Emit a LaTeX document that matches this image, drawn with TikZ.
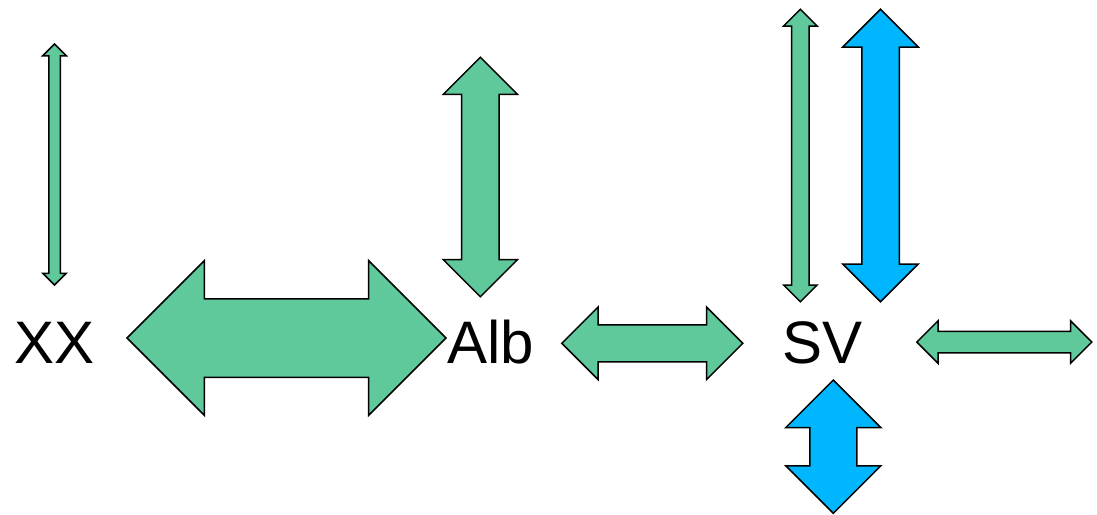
\documentclass[tikz,border=0pt]{standalone}
\usepackage{fontspec}
\setmainfont{Liberation Sans}
\usetikzlibrary{shapes.arrows}

\definecolor{seagreen}{RGB}{95,201,156}
\definecolor{skyblue}{RGB}{0,183,255}

\begin{document}
\begin{tikzpicture}[x=1pt, y=-1pt]
    \tikzset{site/.style={anchor=base, inner sep=0pt, font=\fontsize{60}{72}\selectfont},
             link/.style n args={3}{draw, shape=double arrow, line width=1.5pt, inner xsep=0pt,
                 minimum width=0pt, minimum height=#1, inner ysep=#2, double arrow head extend=#3},
             sea/.style={fill=seagreen},
             sky/.style={fill=skyblue}}
    \useasboundingbox (0, 0) rectangle (1097, 514);

    \node[site] (XX) at (54.5, 363.5) {XX};
    \node[site] (Alb) at (491, 363.5) {Alb};
    \node[site] (SV) at (822.5, 363.5) {SV};

    \node[link={241pt}{5pt}{6pt}, sea, rotate=90] (XXup) at (54.5, 164.5) {};
    \node[link={319pt}{38.5pt}{38.2pt}, sea] (XXAlb) at (286.5, 338) {};
    \node[link={239.5pt}{18pt}{18.3pt}, sea, rotate=90] (Albup) at (480.4, 177) {};
    \node[link={181pt}{17.7pt}{17.8pt}, sea] (AlbSV) at (652.3, 343.3) {};
    \node[link={292.5pt}{8pt}{8pt}, sea, rotate=90] (SVup) at (800.4, 155.5) {};
    \node[link={292.5pt}{18pt}{19pt}, sky, rotate=90] (SVwide) at (880.5, 155.5) {};
    \node[link={175pt}{10pt}{10.5pt}, sea] (SVright) at (1004.3, 342) {};
    \node[link={133.3pt}{22.8pt}{23.9pt}, sky, rotate=90] (SVdown) at (833.3, 446.7) {};
\end{tikzpicture}
\end{document}
